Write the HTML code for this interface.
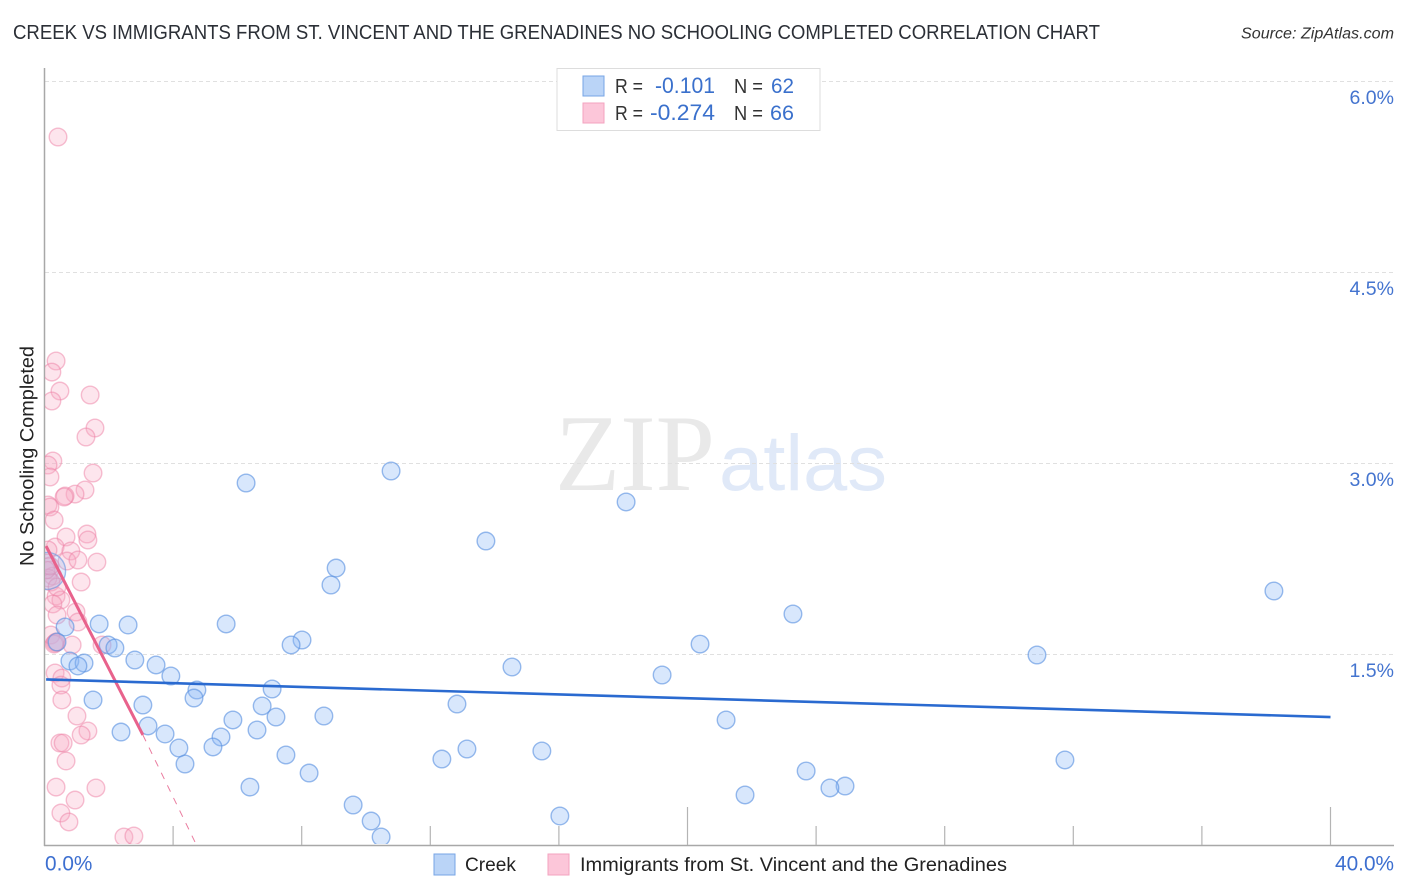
<!DOCTYPE html>
<html lang="en">
<head>
<meta charset="utf-8">
<title>Creek vs Immigrants from St. Vincent and the Grenadines No Schooling Completed Correlation Chart</title>
<style>
html,body{margin:0;padding:0;background:#fff;width:1406px;height:892px;overflow:hidden}
svg{display:block;font-family:"Liberation Sans",sans-serif}
</style>
</head>
<body>
<svg id="chart" xmlns="http://www.w3.org/2000/svg" width="1406" height="892" viewBox="0 0 1406 892">
  <defs>
    <clipPath id="plot-clip"><rect x="45" y="68" width="1349" height="776"/></clipPath>
  </defs>
  <text x="13" y="39" font-size="20" fill="#2b2f36" textLength="1087" lengthAdjust="spacingAndGlyphs">CREEK VS IMMIGRANTS FROM ST. VINCENT AND THE GRENADINES NO SCHOOLING COMPLETED CORRELATION CHART</text>
  <text x="1241" y="38.500" font-size="15.500" font-style="italic" fill="#333" textLength="153" lengthAdjust="spacingAndGlyphs">Source: ZipAtlas.com</text>

  <g>
    <text x="555" y="490" font-family="'Liberation Serif',serif" font-size="109" fill="#e9e9e9" textLength="160" lengthAdjust="spacingAndGlyphs">ZIP</text>
    <text x="719" y="490" font-size="79" fill="#e0e9f8" textLength="168" lengthAdjust="spacingAndGlyphs">atlas</text>
  </g>

  <g id="grid"></g>
  <g id="axes"></g>
  <g id="points" clip-path="url(#plot-clip)"></g>
  <g id="trends"></g>
  <g id="labels"></g>

  <text transform="translate(33.500,456) rotate(-90)" font-size="19" fill="#222" text-anchor="middle" textLength="220" lengthAdjust="spacingAndGlyphs">No Schooling Completed</text>

  <g>
    <rect x="557" y="68.500" width="263" height="62" fill="#fff" stroke="#ddd" stroke-width="1"/>
    <rect x="583" y="76" width="21" height="20" fill="#bad4f7" stroke="#77a5e6" stroke-width="1"/>
    <rect x="583" y="103" width="21" height="20" fill="#fcc6d9" stroke="#f3a3bf" stroke-width="1"/>
    <g font-size="20">
      <text x="615" y="93" fill="#333" textLength="28" lengthAdjust="spacingAndGlyphs">R =</text>
      <text x="655" y="93" fill="#3a70cc" font-size="22" textLength="60" lengthAdjust="spacingAndGlyphs">-0.101</text>
      <text x="734" y="93" fill="#333" textLength="29" lengthAdjust="spacingAndGlyphs">N =</text>
      <text x="771" y="93" fill="#3a70cc" font-size="21" textLength="23" lengthAdjust="spacingAndGlyphs">62</text>
      <text x="615" y="120" fill="#333" textLength="28" lengthAdjust="spacingAndGlyphs">R =</text>
      <text x="650" y="120" fill="#3a70cc" font-size="22" textLength="65" lengthAdjust="spacingAndGlyphs">-0.274</text>
      <text x="734" y="120" fill="#333" textLength="29" lengthAdjust="spacingAndGlyphs">N =</text>
      <text x="770" y="120" fill="#3a70cc" font-size="21" textLength="24" lengthAdjust="spacingAndGlyphs">66</text>
    </g>
  </g>

  <g>
    <rect x="434" y="854" width="21" height="21" fill="#bad4f7" stroke="#77a5e6" stroke-width="1"/>
    <text x="465" y="871" font-size="19.500" fill="#222" textLength="51" lengthAdjust="spacingAndGlyphs">Creek</text>
    <rect x="548" y="854" width="21" height="21" fill="#fcc6d9" stroke="#f3a3bf" stroke-width="1"/>
    <text x="580" y="871" font-size="19.500" fill="#222" textLength="427" lengthAdjust="spacingAndGlyphs">Immigrants from St. Vincent and the Grenadines</text>
  </g>
</svg>

<script>
const creekX = [6.27,10.78,18.09,13.73,9.07,8.91,38.24,23.28,5.65,2.60,1.70,0.64,8.01,7.67,20.39,1.98,2.19,30.87,0.79,1.23,1.04,2.81,3.47,3.93,14.54,19.21,4.74,7.08,4.65,1.51,12.83,3.06,6.77,7.20,5.86,8.69,21.20,3.22,2.38,3.75,6.61,5.49,4.18,5.24,13.14,7.51,15.47,12.36,31.74,4.37,8.23,23.69,6.39,24.90,24.43,21.79,9.60,16.03,10.16,10.47,0.39];
const creekY = [2.843,2.937,2.694,2.387,2.175,2.042,1.995,1.814,1.736,1.728,1.736,1.712,1.610,1.571,1.578,1.571,1.547,1.492,1.445,1.429,1.406,1.453,1.414,1.327,1.398,1.335,1.217,1.225,1.154,1.139,1.107,1.099,1.092,1.005,0.982,1.013,0.982,0.935,0.887,0.872,0.903,0.848,0.762,0.770,0.754,0.707,0.738,0.675,0.668,0.636,0.565,0.581,0.455,0.463,0.448,0.393,0.314,0.228,0.188,0.063,1.594];
const creekLargeX = [0.08];
const creekLargeY = [2.152];
const immigrantsX = [0.42,0.36,0.23,0.48,0.23,1.42,1.57,1.29,0.26,0.11,0.17,1.51,1.26,0.95,0.64,0.61,0.11,0.17,0.30,1.32,1.35,0.67,0.33,0.82,0.11,0.70,1.04,1.63,1.14,0.36,0.51,0.26,0.39,0.98,1.04,0.20,0.33,0.30,0.36,0.86,1.79,0.33,0.54,0.51,0.54,1.01,1.35,1.14,0.48,0.58,0.67,0.36,1.60,0.95,0.51,0.76,2.47,2.78,0.08,0.17,0.26,0.11,0.20,0.39,0.05,0.17];
const immigrantsY = [5.560,3.801,3.714,3.565,3.487,3.534,3.275,3.204,3.016,2.984,2.890,2.921,2.788,2.756,2.741,2.733,2.670,2.654,2.552,2.442,2.395,2.419,2.340,2.309,2.317,2.230,2.238,2.222,2.065,1.955,1.924,1.893,1.806,1.830,1.751,1.649,1.586,1.578,1.594,1.571,1.571,1.351,1.311,1.256,1.139,1.013,0.895,0.864,0.801,0.801,0.660,0.455,0.448,0.353,0.251,0.181,0.063,0.071,2.215,2.160,2.112,2.097,2.065,2.026,2.160,2.191];
const creekTrendX = [0.05,40];
const creekTrendY = [1.300,1.005];
const immigrantsTrendX = [0.05,3.06];
const immigrantsTrendY = [2.348,0.864];
const immigrantsDashX = [3.06,4.68];
const immigrantsDashY = [0.864,0.024];
const yTicks = [1.5,3.0,4.5,6.0];
const xTicks = [4,8,12,16,20,24,28,32,36,40];
const xMajorTicks = [20,40];
const xLabels = [0,40];

const NS = 'http://www.w3.org/2000/svg';
function xScale(v){ return 44.5 + v * (1286 / 40); }
function yScale(v){ return 845 - v * (764 / 6); }
function make(tag, attrs, parent){
  const el = document.createElementNS(NS, tag);
  for (const k in attrs) el.setAttribute(k, attrs[k]);
  parent.appendChild(el);
  return el;
}
const grid = document.getElementById('grid');
const axes = document.getElementById('axes');
const points = document.getElementById('points');
const trends = document.getElementById('trends');
const labels = document.getElementById('labels');

yTicks.forEach(function(v){
  const line = make('line', {x1:45, x2:1394, y1:Math.round(yScale(v))+0.5, y2:Math.round(yScale(v))+0.5, stroke:'#e0e0e0', 'stroke-width':1, 'stroke-dasharray':'4 3'}, grid);
  
  
  const t = make('text', {x:1394, y:yScale(v)+23, 'text-anchor':'end', 'font-size':19.5, fill:'#4474cf'}, labels);
  t.textContent = v.toFixed(1) + '%';
  
  
});

const yAxisLine = make('line', {x1:44.5, x2:44.5, y1:68, y2:846, stroke:'#a8a8a8', 'stroke-width':1.5}, axes);


const xAxisLine = make('line', {x1:44, x2:1394, y1:845.5, y2:845.5, stroke:'#a8a8a8', 'stroke-width':1.5}, axes);



xTicks.forEach(function(v){
  const top = xMajorTicks.indexOf(v) >= 0 ? 807 : 826;
  const tick = make('line', {x1:xScale(v), x2:xScale(v), y1:top, y2:845, stroke:'#b4b4b4', 'stroke-width':1.2}, axes);
  
  
});

xLabels.forEach(function(v, i){
  const t = make('text', {x:i === 0 ? 45 : 1394, y:870.5, 'text-anchor':i === 0 ? 'start' : 'end', 'font-size':20.8, fill:'#3d6fd0'}, labels);
  t.textContent = v.toFixed(1) + '%';
  
  
});

immigrantsX.forEach(function(v, i){
  const c = make('circle', {cx:xScale(v), cy:yScale(immigrantsY[i]), r:8.8, fill:'rgba(248,170,195,0.30)', stroke:'rgba(238,130,165,0.50)', 'stroke-width':1.4}, points);
  
  
});
creekLargeX.forEach(function(v, i){
  const c = make('circle', {cx:xScale(v), cy:yScale(creekLargeY[i]), r:18.5, fill:'rgba(140,185,245,0.26)', stroke:'rgba(100,150,225,0.60)', 'stroke-width':1.4}, points);
  
  
});
creekX.forEach(function(v, i){
  const c = make('circle', {cx:xScale(v), cy:yScale(creekY[i]), r:8.8, fill:'rgba(140,185,245,0.34)', stroke:'rgba(90,145,225,0.62)', 'stroke-width':1.4}, points);
  
  
});

const dash = make('line', {x1:xScale(immigrantsDashX[0]), y1:yScale(immigrantsDashY[0]), x2:xScale(immigrantsDashX[1]), y2:yScale(immigrantsDashY[1]), stroke:'#ea7c9f', 'stroke-width':1, 'stroke-dasharray':'7 7'}, trends);


const pinkTrend = make('line', {x1:xScale(immigrantsTrendX[0]), y1:yScale(immigrantsTrendY[0]), x2:xScale(immigrantsTrendX[1]), y2:yScale(immigrantsTrendY[1]), stroke:'#e8628c', 'stroke-width':3}, trends);


const blueTrend = make('line', {x1:xScale(creekTrendX[0]), y1:yScale(creekTrendY[0]), x2:xScale(creekTrendX[1]), y2:yScale(creekTrendY[1]), stroke:'#2a6ad0', 'stroke-width':2.6}, trends);


</script>
</body>
</html>
